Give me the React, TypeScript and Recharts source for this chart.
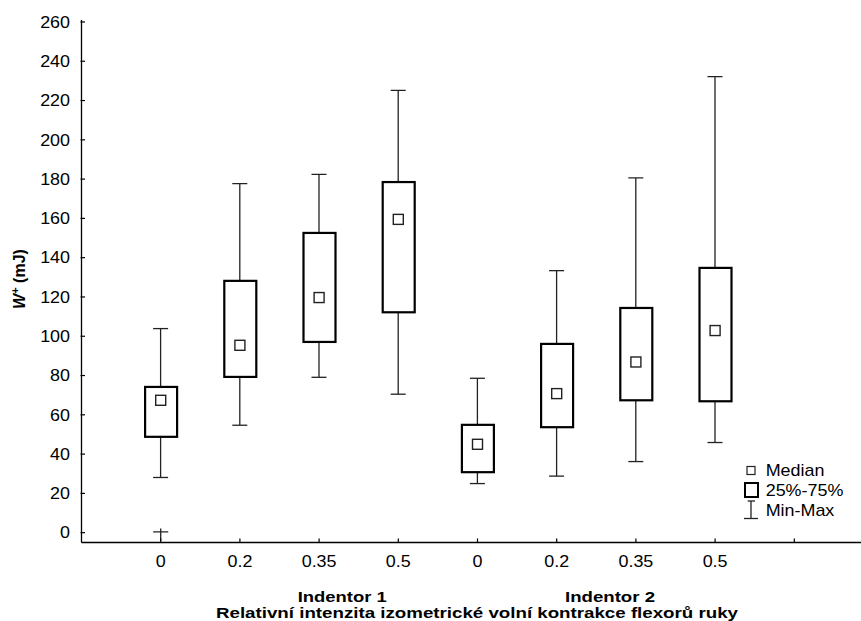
import React from 'react';
import { ComposedChart, Bar, Scatter, XAxis, YAxis, Legend } from 'recharts';

// ---- data ----
const categories = ['c1', 'c2', 'c3', 'c4', 'c5', 'c6', 'c7', 'c8', 'c9'];
const xTickLabels = ['0', '0.2', '0.35', '0.5', '0', '0.2', '0.35', '0.5', ''];
const minValues = [28.1, 54.7, 79.1, 70.5, 25.0, 28.8, 36.2, 45.9, null];
const q1Values = [48.8, 79.3, 97.1, 112.2, 30.8, 53.7, 67.4, 66.9, null];
const medianValues = [67.4, 95.4, 119.7, 159.5, 45.0, 70.8, 86.9, 102.9, null];
const q3Values = [74.2, 128.2, 152.6, 178.5, 54.9, 96.1, 114.4, 134.8, null];
const maxValues = [103.9, 177.7, 182.4, 225.2, 78.6, 133.4, 180.6, 232.2, null];
const extraLowValues = [0.4, null, null, null, null, null, null, null, null];
const yTicks = [0, 20, 40, 60, 80, 100, 120, 140, 160, 180, 200, 220, 240, 260];
const groupLabels = ['Indentor 1', 'Indentor 2'];
const xTitle = 'Relativní intenzita izometrické volní kontrakce flexorů ruky';
const yTitleMain = 'W';
const yTitleSup = '+';
const yTitleUnit = ' (mJ)';
const legendLabels = ['Median', '25%-75%', 'Min-Max'];

const data = categories.map((c, i) => ({
  cat: c,
  whisker: minValues[i] == null ? null : [minValues[i], maxValues[i]],
  box: q1Values[i] == null ? null : [q1Values[i], q3Values[i]],
  median: medianValues[i],
  extra: extraLowValues[i],
}));

const FONT = '"Liberation Sans", Arial, sans-serif';
const SX = 1.12;

const SText = ({ x, y, anchor = 'start', bold = false, size = 16, children }: any) => (
  <text
    transform={`translate(${x},${y}) scale(${SX},1)`}
    textAnchor={anchor}
    fontFamily={FONT}
    fontSize={size}
    fontWeight={bold ? 'bold' : 'normal'}
    fill="#000"
  >
    {children}
  </text>
);

const YTick = (props: any) => {
  const { x, y, payload } = props;
  return (
    <g>
      <line x1={x - 1} x2={x + 3.5} y1={y} y2={y} stroke="#000" strokeWidth={1.2} />
      <SText x={x - 11.5} y={y + 5.7} anchor="end">{payload.value}</SText>
    </g>
  );
};

const XTick = (props: any) => {
  const { x, y, payload } = props;
  const idx = categories.indexOf(payload.value);
  const label = idx >= 0 ? xTickLabels[idx] : '';
  return (
    <g>
      <line x1={x} x2={x} y1={y} y2={y - 4} stroke="#000" strokeWidth={1.2} />
      <SText x={x} y={y + 24.2} anchor="middle">{label}</SText>
    </g>
  );
};

const BoldLine = ({ x, y, len, size, children }: any) => (
  <text
    x={x}
    y={y}
    textLength={len}
    lengthAdjust="spacingAndGlyphs"
    fontFamily={FONT}
    fontSize={size}
    fontWeight="bold"
    fill="#000"
  >
    {children}
  </text>
);

const XTitle = () => (
  <g>
    <BoldLine x={297.7} y={601.5} len={89} size={15}>{groupLabels[0]}</BoldLine>
    <BoldLine x={565} y={601.5} len={90} size={15}>{groupLabels[1]}</BoldLine>
    <BoldLine x={216} y={617.8} len={522} size={14}>{xTitle}</BoldLine>
  </g>
);

const YTitle = () => (
  <text
    transform="translate(25,279) rotate(-90)"
    textAnchor="middle"
    fontFamily={FONT}
    fontSize={16}
    fontWeight="bold"
    fill="#000"
  >
    <tspan fontStyle="italic">{yTitleMain}</tspan>
    <tspan fontSize={11} dy={-6}>{yTitleSup}</tspan>
    <tspan dy={6}>{yTitleUnit}</tspan>
  </text>
);

const WhiskerShape = (props: any) => {
  const { x, y, width, height } = props;
  if (x == null || y == null || isNaN(y) || isNaN(height)) return <g />;
  const top = Math.min(y, y + height);
  const bot = Math.max(y, y + height);
  const cx = x + width / 2;
  return (
    <g>
      <line x1={cx} x2={cx} y1={top} y2={bot} stroke="#222" strokeWidth={1.3} />
      <line x1={cx - 7.5} x2={cx + 7.5} y1={top} y2={top} stroke="#222" strokeWidth={1.3} />
      <line x1={cx - 7.5} x2={cx + 7.5} y1={bot} y2={bot} stroke="#222" strokeWidth={1.3} />
    </g>
  );
};

const BoxShape = (props: any) => {
  const { x, y, width, height } = props;
  if (x == null || y == null || isNaN(y) || isNaN(height)) return <g />;
  const top = Math.min(y, y + height);
  const h = Math.abs(height);
  return <rect x={x} y={top} width={width} height={h} fill="#fff" stroke="#000" strokeWidth={2.2} />;
};

const MedianShape = (props: any) => {
  const { cx, cy } = props;
  if (cx == null || cy == null || isNaN(cy)) return <g />;
  return <rect x={cx - 5} y={cy - 5} width={10} height={10} fill="#fff" stroke="#222" strokeWidth={1.4} />;
};

const ExtraShape = (props: any) => {
  const { cx, cy } = props;
  if (cx == null || cy == null || isNaN(cy)) return <g />;
  return (
    <g>
      <line x1={cx - 7.5} x2={cx + 7.5} y1={cy} y2={cy} stroke="#222" strokeWidth={1.3} />
      <line x1={cx} x2={cx} y1={cy - 3.5} y2={cy + 9} stroke="#222" strokeWidth={1.3} />
    </g>
  );
};

const LegendContent = () => (
  <svg width={120} height={64} style={{ display: 'block' }}>
    <rect x={7} y={6.5} width={8} height={8} fill="#fff" stroke="#222" strokeWidth={1.2} />
    <SText x={25.7} y={15.7}>{legendLabels[0]}</SText>
    <rect x={5} y={23} width={13} height={14} fill="#fff" stroke="#000" strokeWidth={2} />
    <SText x={25.7} y={36.4}>{legendLabels[1]}</SText>
    <line x1={11} x2={11} y1={41} y2={58.5} stroke="#222" strokeWidth={1.3} />
    <line x1={7.7} x2={15} y1={41} y2={41} stroke="#222" strokeWidth={1.3} />
    <line x1={4} x2={18} y1={58.5} y2={58.5} stroke="#222" strokeWidth={1.3} />
    <SText x={25.7} y={56.4}>{legendLabels[2]}</SText>
  </svg>
);

export default function App() {
  return (
    <div style={{ position: 'absolute', left: 0, top: 0, width: 861, height: 621, overflow: 'hidden', background: '#fff' }}>
      <ComposedChart
        width={880}
        height={621}
        data={data}
        margin={{ top: 20, right: 6.5, bottom: 0, left: 0 }}
      >
        <XAxis
          xAxisId="w"
          dataKey="cat"
          type="category"
          height={78.5}
          padding={{ left: 39.6, right: 39.6 }}
          interval={0}
          tickLine={false}
          tickSize={0}
          tickMargin={0}
          tick={<XTick />}
          axisLine={{ stroke: '#000', strokeWidth: 1.3 }}
          label={{ content: () => <XTitle /> }}
        />
        <XAxis
          xAxisId="b"
          dataKey="cat"
          type="category"
          orientation="top"
          height={0}
          padding={{ left: 39.6, right: 39.6 }}
          tick={false}
          tickLine={false}
          axisLine={{ stroke: '#000', strokeWidth: 1.3 }}
        />
        <YAxis
          type="number"
          domain={[-5, 261]}
          allowDataOverflow
          ticks={yTicks}
          interval={0}
          width={81.5}
          tickLine={false}
          tickSize={0}
          tickMargin={0}
          tick={<YTick />}
          axisLine={{ stroke: '#000', strokeWidth: 1.3 }}
          label={{ content: () => <YTitle /> }}
        />
        <Legend
          layout="horizontal"
          verticalAlign="middle"
          align="center"
          content={() => <LegendContent />}
          wrapperStyle={{ position: 'absolute', left: 740, top: 460, width: 120, height: 64 }}
        />
        <Bar xAxisId="w" dataKey="whisker" barSize={15} shape={<WhiskerShape />} isAnimationActive={false} />
        <Bar xAxisId="b" dataKey="box" barSize={32} shape={<BoxShape />} isAnimationActive={false} />
        <Scatter xAxisId="w" dataKey="median" shape={<MedianShape />} isAnimationActive={false} />
        <Scatter xAxisId="w" dataKey="extra" shape={<ExtraShape />} isAnimationActive={false} />
      </ComposedChart>
    </div>
  );
}
